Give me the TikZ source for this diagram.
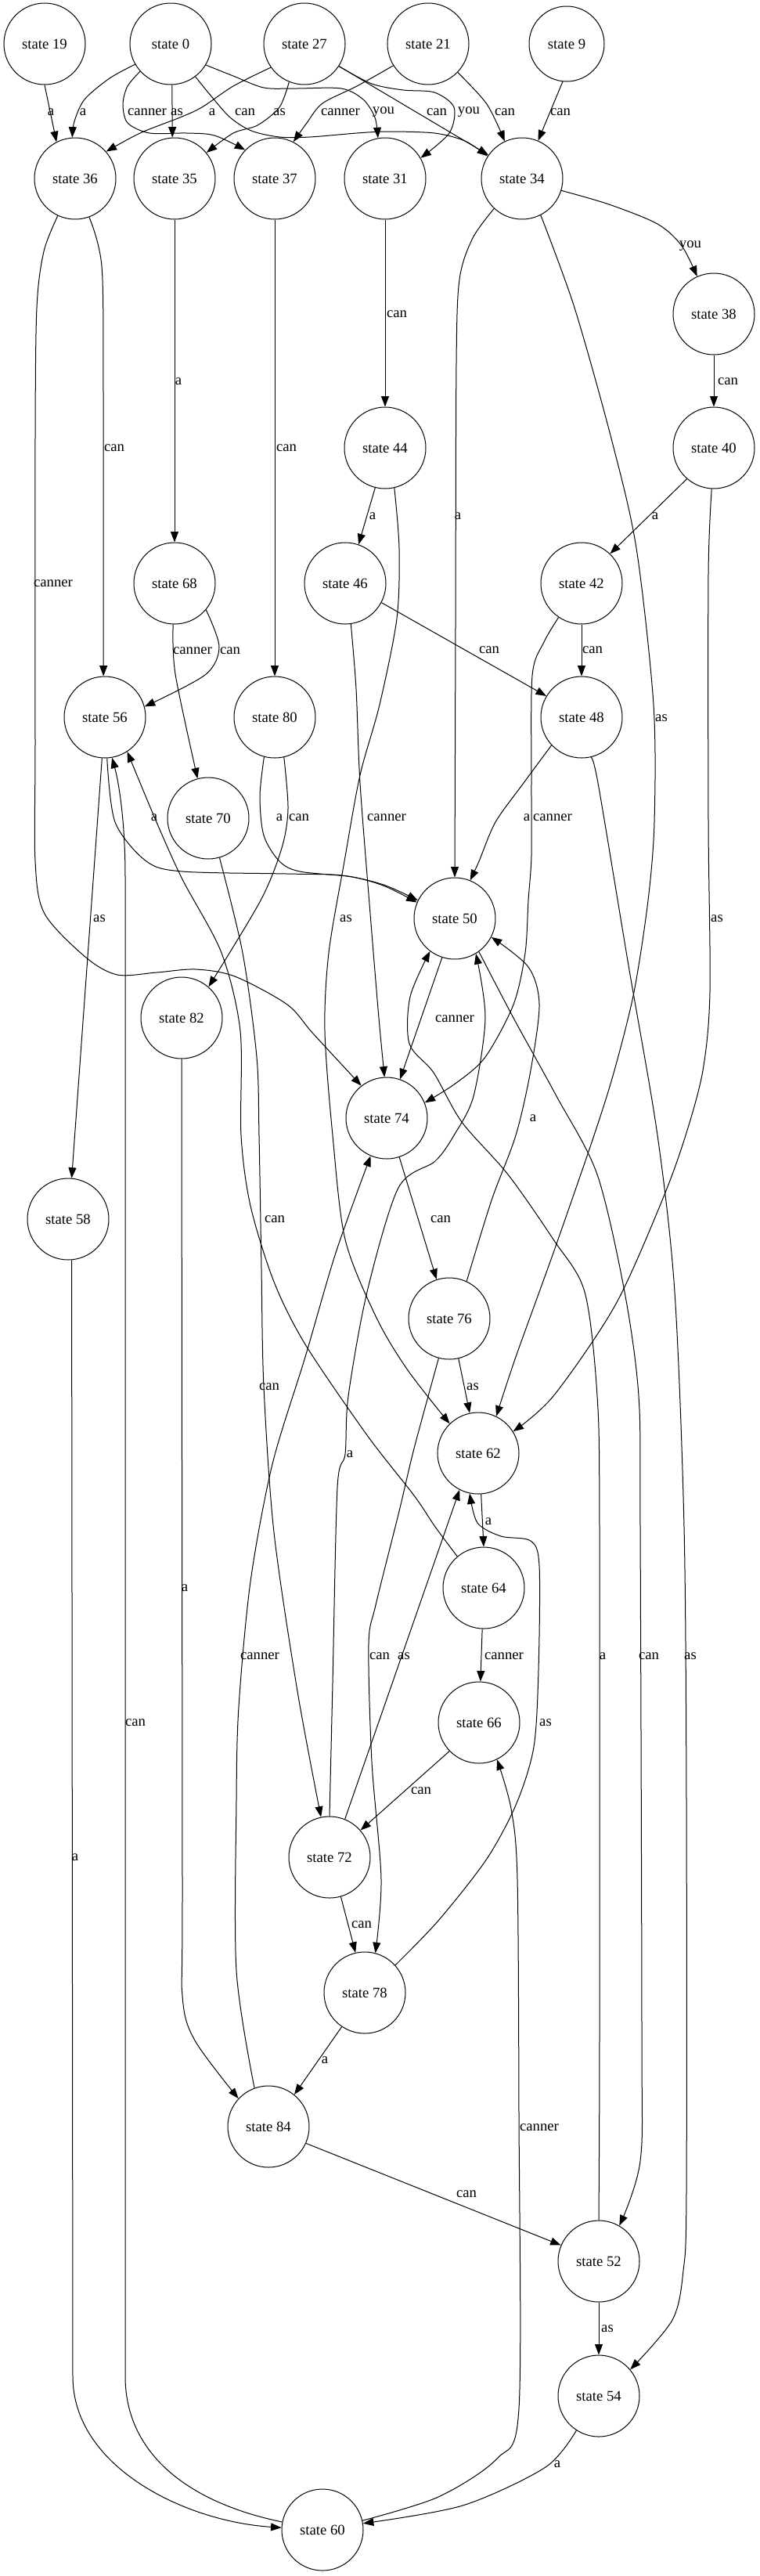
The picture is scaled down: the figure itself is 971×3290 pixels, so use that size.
\documentclass[tikz,border=0pt]{standalone}
\usepackage{fontspec}
\setmainfont{Liberation Serif}
\usetikzlibrary{arrows.meta}
\newcommand\fsz{\fontsize{18.7}{22}\selectfont}
\begin{document}
\begin{tikzpicture}[x=1pt,y=-1pt,
  st/.style={circle, draw, line width=1pt, minimum size=104pt, inner sep=0pt, font=\fsz},
  e/.style={line width=1pt, -{Triangle[length=13.5pt,width=10pt]}},
  lb/.style={inner sep=0pt, font=\fsz},
  sm/.style={smooth, tension=0.5}]
\useasboundingbox (0,0) rectangle (971,3290);
% nodes
\node[st] (s19) at (57,56) {state 19};
\node[st] (s0) at (218,56) {state 0};
\node[st] (s27) at (389,56) {state 27};
\node[st] (s21) at (547,56) {state 21};
\node[st, minimum size=96pt] (s9) at (724,56) {state 9};
\node[st] (s36) at (96,228) {state 36};
\node[st] (s35) at (223,228) {state 35};
\node[st] (s37) at (351,228) {state 37};
\node[st] (s31) at (492,228) {state 31};
\node[st] (s34) at (667,228) {state 34};
\node[st] (s38) at (912,401) {state 38};
\node[st] (s44) at (492,572) {state 44};
\node[st] (s40) at (912,572) {state 40};
\node[st] (s68) at (223,745) {state 68};
\node[st] (s46) at (441,745) {state 46};
\node[st] (s42) at (743,745) {state 42};
\node[st] (s56) at (134,916) {state 56};
\node[st] (s80) at (351,916) {state 80};
\node[st] (s48) at (743,916) {state 48};
\node[st] (s70) at (266,1045) {state 70};
\node[st] (s50) at (581,1173) {state 50};
\node[st] (s82) at (232,1300) {state 82};
\node[st] (s74) at (494,1428) {state 74};
\node[st] (s58) at (87,1557) {state 58};
\node[st] (s76) at (574,1684) {state 76};
\node[st] (s62) at (611,1856) {state 62};
\node[st] (s64) at (618,2028) {state 64};
\node[st] (s66) at (612,2200) {state 66};
\node[st] (s72) at (421,2372) {state 72};
\node[st] (s78) at (466,2545) {state 78};
\node[st] (s84) at (343,2716) {state 84};
\node[st] (s52) at (765,2888) {state 52};
\node[st] (s54) at (765,3060) {state 54};
\node[st] (s60) at (412,3231) {state 60};
% straight edges
\draw[e] (s19.270) -- (s36.117);
\draw[e] (s0.272) -- (s35.93);
\draw[e] (s27.327) -- (s34.145);
\draw[e] (s9.264) -- (s34.67);
\draw[e] (s38) -- (s40);
\draw[e] (s31) -- (s44);
\draw[e] (s35) -- (s68);
\draw[e] (s37) -- (s80);
\draw[e] (s40.229) -- (s42.46);
\draw[e] (s44.256) -- (s46.71);
\draw[e] (s46.332) -- (s48.149);
\draw[e] (s42) -- (s48);
\draw[e] (s50.252) -- (s74.71);
\draw[e] (s74.288) -- (s76.108);
\draw[e] (s76.283) -- (s62.102);
\draw[e] (s62.274) -- (s64.90);
\draw[e] (s64) -- (s66);
\draw[e] (s66.224) -- (s72.41);
\draw[e] (s72.68) -- (s62.243);
\draw[e] (s72.286) -- (s78.103);
\draw[e] (s78.236) -- (s84.51);
\draw[e] (s84.336) -- (s52.157);
\draw[e] (s52) -- (s54);
\draw[e] (s56.266) -- (s58.85);
% curved edges
\draw[e] plot[sm] coordinates {(s0.210) (140,100) (108,127) (95,155) (s36.94)};
\draw[e] plot[sm] coordinates {(s0.222) (163,110) (157,133) (163,157) (191,170) (238,170) (274,173) (s37.136)};
\draw[e] plot[sm] coordinates {(s0.307) (270,123) (294,150) (321,167) (357,175) (396,175) (456,170) (495,168) (555,170) (594,180) (s34.147)};
\draw[e] plot[sm] coordinates {(s0.329) (298,97) (337,112) (377,113) (436,113) (464,127) (479,150) (s31.100)};
\draw[e] plot[sm] coordinates {(s27.215) (298,110) (258,137) (230,150) (179,170) (s36.41)};
\draw[e] plot[sm] coordinates {(s27.248) (357,137) (329,160) (298,170) (s35.39)};
\draw[e] plot[sm] coordinates {(s27.327) (475,107) (515,115) (555,118) (580,137) (574,170) (s31.30)};
\draw[e] plot[sm] coordinates {(s21.212) (456,110) (412,132) (392,157) (s37.63)};
\draw[e] plot[sm] coordinates {(s21.316) (622,133) (s34.115)};
\draw[e] plot[sm] coordinates {(s34.343) (778,261) (840,286) (871,314) (s38.114)};
\draw[e] plot[sm] coordinates {(s36.290) (130,340) (132,500) (s56.92)};
\draw[e] plot[sm] coordinates {(s36.245) (56,321) (47,393) (45,560) (45,950) (45,1100) (57,1167) (110,1223) (150,1245) (200,1242) (250,1238) (300,1247) (367,1283) (400,1320) (s74.128)};
\draw[e] plot[sm] coordinates {(s34.227) (604,304) (587,357) (583,464) (582,800) (s50.90)};
\draw[e] plot[sm] coordinates {(s34.297) (734,393) (781,560) (813,700) (835,900) (836,1050) (828,1150) (810,1267) (785,1367) (759,1450) (707,1600) (659,1733) (s62.64)};
\draw[e] plot[sm] coordinates {(s40.267) (905,733) (905,1050) (907,1267) (898,1367) (876,1450) (846,1533) (786,1667) (707,1783) (s62.32)};
\draw[e] plot[sm] coordinates {(s44.283) (510,700) (507,790) (485,900) (460,990) (440,1100) (420,1217) (415,1317) (425,1450) (441,1583) (481,1683) (521,1750) (s62.134)};
\draw[e] plot[sm] coordinates {(s46.278) (455,880) (460,1000) (473,1167) (484,1300) (s74.93)};
\draw[e] plot[sm] coordinates {(s42.236) (695,820) (680,863) (679,1000) (679,1093) (675,1150) (671,1217) (656,1283) (620,1350) (583,1383) (s74.22)};
\draw[e] plot[sm] coordinates {(s48.223) (669,1000) (633,1050) (612,1100) (s50.68)};
\draw[e] plot[sm] coordinates {(s48.283) (764,1000) (803,1233) (840,1450) (862,1650) (874,1950) (877,2300) (877,2800) (873,2900) (859,2963) (s54.40)};
\draw[e] plot[sm] coordinates {(s50.306) (656,1300) (711,1400) (763,1500) (798,1650) (816,1783) (818,1950) (820,2600) (818,2760) (s52.60)};
\draw[e] plot[sm] coordinates {(s52.90) (766,2600) (766,1950) (763,1783) (747,1650) (707,1583) (649,1500) (590,1433) (554,1370) (523,1333) (524,1273) (s50.233)};
\draw[e] plot[sm] coordinates {(s72.90) (425,2150) (431,1900) (441,1857) (445,1783) (469,1650) (509,1517) (556,1483) (580,1450) (605,1400) (620,1300) (s50.301)};
\draw[e] plot[sm] coordinates {(s76.65) (628,1533) (659,1450) (678,1367) (689,1283) (675,1235) (s50.333)};
\draw[e] plot[sm] coordinates {(s76.255) (529,1850) (510,1930) (480,2050) (471,2100) (475,2250) (487,2400) (s78.75)};
\draw[e] plot[sm] coordinates {(s64.130) (556,1950) (529,1910) (469,1833) (390,1717) (350,1637) (320,1540) (308,1450) (307,1317) (283,1217) (233,1123) (200,1050) (s56.303)};
\draw[e] plot[sm] coordinates {(s78.42) (560,2453) (622,2374) (660,2303) (682,2231) (688,2133) (689,2000) (678,1968) (640,1962) (610,1945) (s62.258)};
\draw[e] plot[sm] coordinates {(s70.286) (310,1217) (328,1350) (331,1450) (334,1620) (337,1771) (350,1957) (380,2160) (s72.102)};
\draw[e] plot[sm] coordinates {(s68.320) (280,826) (262,862) (s56.15)};
\draw[e] plot[sm] coordinates {(s68.268) (224,861) (s70.105)};
\draw[e] plot[sm] coordinates {(s56.273) (147,1050) (187,1100) (233,1113) (367,1116) (437,1118) (490,1130) (s50.154)};
\draw[e] plot[sm] coordinates {(s80.255) (332,1017) (337,1067) (357,1100) (383,1113) (450,1120) (492,1132) (s50.157)};
\draw[e] plot[sm] coordinates {(s80.283) (368,1033) (360,1083) (333,1150) (s82.49)};
\draw[e] plot[sm] coordinates {(s82.270) (233,2400) (233,2549) (249,2606) (s84.137)};
\draw[e] plot[sm] coordinates {(s84.110) (302,2517) (302,2300) (305,2180) (320,2020) (348,1870) (390,1733) (429,1600) (s74.247)};
\draw[e] plot[sm] coordinates {(s54.237) (697,3151) (591,3200) (s60.9)};
\draw[e] (s58.275) -- (93,3035) .. controls (93,3150) and (235,3220) .. (s60.177);
\draw[e] (s60.169) .. controls (235,3195) and (160,3130) .. (160,3035) -- (160,1120) .. controls (160,1050) and (152,1000) .. (s56.280);
\draw[e] plot[sm] coordinates {(s60.13) (560,3189) (635,3140) (663,3076) (663,2700) (661,2400) (653,2310) (s66.296)};
% labels
\node[lb] (l1) at (65,143) {a};
\node[lb] (l2) at (106,143) {a};
\node[lb] (l3) at (188,143) {canner};
\node[lb] (l4) at (226,143) {as};
\node[lb] (l5) at (271,143) {a};
\node[lb] (l6) at (313,143) {can};
\node[lb] (l7) at (357,143) {as};
\node[lb] (l8) at (435,143) {canner};
\node[lb] (l9) at (490,143) {you};
\node[lb] (l10) at (558,143) {can};
\node[lb] (l11) at (599,143) {you};
\node[lb] (l12) at (645,143) {can};
\node[lb] (l13) at (716,143) {can};
\node[lb] (l14) at (882,314) {you};
\node[lb] (l15) at (507,401) {can};
\node[lb] (l16) at (930,487) {can};
\node[lb] (l17) at (228,487) {a};
\node[lb] (l18) at (146,572) {can};
\node[lb] (l19) at (366,572) {can};
\node[lb] (l20) at (68,745) {canner};
\node[lb] (l21) at (476,659) {a};
\node[lb] (l22) at (585,659) {a};
\node[lb] (l23) at (837,659) {a};
\node[lb] (l24) at (294,831) {can};
\node[lb] (l25) at (246,831) {canner};
\node[lb] (l26) at (625,830) {can};
\node[lb] (l27) at (757,830) {can};
\node[lb] (l28) at (845,917) {as};
\node[lb] (l29) at (197,1044) {a};
\node[lb] (l30) at (357,1044) {a};
\node[lb] (l31) at (382,1044) {can};
\node[lb] (l32) at (494,1044) {canner};
\node[lb] (l33) at (673,1044) {a};
\node[lb] (l34) at (706,1044) {canner};
\node[lb] (l35) at (127,1173) {as};
\node[lb] (l36) at (442,1173) {as};
\node[lb] (l37) at (916,1173) {as};
\node[lb] (l38) at (581,1301) {canner};
\node[lb] (l39) at (681,1428) {a};
\node[lb] (l40) at (351,1557) {can};
\node[lb] (l41) at (563,1557) {can};
\node[lb] (l42) at (344,1771) {can};
\node[lb] (l43) at (604,1771) {as};
\node[lb] (l44) at (447,1857) {a};
\node[lb] (l45) at (624,1943) {a};
\node[lb] (l46) at (236,2028) {a};
\node[lb] (l47) at (332,2115) {canner};
\node[lb] (l48) at (485,2115) {can};
\node[lb] (l49) at (516,2115) {as};
\node[lb] (l50) at (644,2115) {canner};
\node[lb] (l51) at (770,2115) {a};
\node[lb] (l52) at (829,2115) {can};
\node[lb] (l53) at (882,2115) {as};
\node[lb] (l54) at (173,2200) {can};
\node[lb] (l55) at (697,2200) {as};
\node[lb] (l56) at (538,2287) {can};
\node[lb] (l57) at (96,2372) {a};
\node[lb] (l58) at (462,2458) {can};
\node[lb] (l59) at (415,2631) {a};
\node[lb] (l60) at (689,2717) {canner};
\node[lb] (l61) at (596,2802) {can};
\node[lb] (l62) at (776,2974) {as};
\node[lb] (l63) at (712,3147) {a};
\end{tikzpicture}
\end{document}
